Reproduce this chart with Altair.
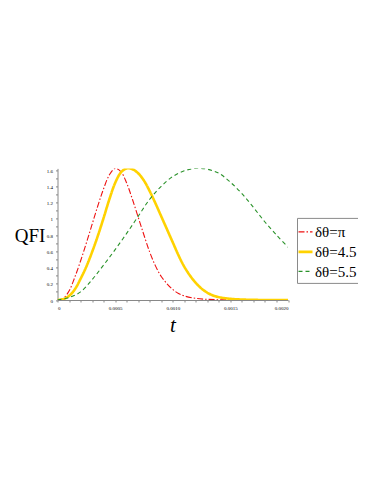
import altair as alt
import pandas as pd

# Series data (t in seconds, QFI values)
red_t = [0, 0.00005, 0.0001, 0.00015, 0.0002, 0.00025, 0.0003, 0.00035, 0.0004,
         0.00045, 0.0005, 0.00055, 0.0006, 0.00065, 0.0007, 0.00075, 0.0008,
         0.00085, 0.0009, 0.00095, 0.001, 0.00105, 0.0011, 0.0012, 0.0013,
         0.0014, 0.0015, 0.0016, 0.0018, 0.002]
red_v = [0, 0.02, 0.11, 0.28, 0.48, 0.70, 0.93, 1.16, 1.37,
         1.54, 1.62, 1.58, 1.44, 1.24, 1.02, 0.80, 0.59,
         0.42, 0.29, 0.20, 0.13, 0.08, 0.05, 0.02, 0.008,
         0.003, 0.001, 0, 0, 0]

yel_t = [0, 0.00005, 0.0001, 0.00015, 0.0002, 0.00025, 0.0003, 0.00035, 0.0004,
         0.00045, 0.0005, 0.00055, 0.0006, 0.00065, 0.0007, 0.00075, 0.0008,
         0.00085, 0.0009, 0.00095, 0.001, 0.00105, 0.0011, 0.00115, 0.0012,
         0.00125, 0.0013, 0.00135, 0.0014, 0.0015, 0.0016, 0.0017, 0.0018, 0.002]
yel_v = [0, 0.01, 0.05, 0.13, 0.26, 0.41, 0.59, 0.79, 1.01,
         1.24, 1.44, 1.57, 1.62, 1.61, 1.56, 1.47, 1.34,
         1.19, 1.03, 0.87, 0.71, 0.55, 0.41, 0.30, 0.21,
         0.14, 0.09, 0.055, 0.035, 0.015, 0.006, 0.002, 0, 0]

grn_t = [0, 0.0001, 0.0002, 0.0003, 0.0004, 0.0005, 0.0006, 0.0007, 0.0008,
         0.0009, 0.001, 0.0011, 0.0012, 0.0013, 0.0014, 0.0015, 0.0016,
         0.0017, 0.0018, 0.0019, 0.002]
grn_v = [0, 0.03, 0.10, 0.25, 0.43, 0.62, 0.82, 1.03, 1.24,
         1.40, 1.52, 1.59, 1.62, 1.61, 1.56, 1.45, 1.31,
         1.14, 0.96, 0.80, 0.65]

labels = ["δθ=π", "δθ=4.5", "δθ=5.5"]
colors = ["#ee1111", "#ffd200", "#2a922a"]
dashes = [[6, 2, 1.5, 2], [1, 0], [4, 3]]
widths = [1.1, 2.6, 1.1]

x_ticks = [round(i * 0.0001, 4) for i in range(21)]
y_ticks = [round(i * 0.1, 1) for i in range(17)]

series = [(red_t, red_v), (yel_t, yel_v), (grn_t, grn_v)]

FONT = "Liberation Serif"

x_axis = alt.Axis(
    values=x_ticks,
    labelExpr="abs(datum.value*10000 - round(datum.value*2000)*5) > 0.01 ? '' : (datum.value == 0 ? '0' : format(datum.value, '.4f'))",
    labelFont=FONT, labelFontSize=5, labelColor="#000", labelPadding=3,
    tickSize=2, tickColor="#888", domainColor="#888", grid=False,
    title="t", titleFont=FONT, titleFontSize=21, titleFontStyle="italic",
    titleFontWeight="normal", titleX=115, titleY=25, titleBaseline="middle",
    titleAlign="center", labelOverlap=False,
)
y_axis = alt.Axis(
    values=y_ticks,
    labelExpr="abs(datum.value*10 - round(datum.value*5)*2) > 0.01 ? '' : format(datum.value, '~g')",
    labelFont=FONT, labelFontSize=5, labelColor="#000", labelPadding=3,
    tickSize=2, tickColor="#888", domainColor="#888", grid=False,
    title="QFI", titleFont=FONT, titleFontSize=19, titleFontWeight="normal",
    titleAngle=0, titleX=-28, titleY=67, titleAlign="center",
    titleBaseline="middle", labelOverlap=False,
)

xs = alt.Scale(domain=[0, 0.002], nice=False)
ys = alt.Scale(domain=[0, 1.62], nice=False)

layers = []
for i, (tt, vv) in enumerate(series):
    df = pd.DataFrame({"t": tt, "v": vv})
    layers.append(
        alt.Chart(df).mark_line(
            color=colors[i], strokeDash=dashes[i], strokeWidth=widths[i],
            interpolate="catmull-rom", clip=True,
        ).encode(
            x=alt.X("t:Q", scale=xs, axis=x_axis),
            y=alt.Y("v:Q", scale=ys, axis=y_axis),
        )
    )

# Legend box (decoration)
box = alt.Chart(pd.DataFrame({"a": [0]})).mark_rect(
    fill="white", stroke="#8a8a8a", strokeWidth=1
).encode(x=alt.value(240), x2=alt.value(302), y=alt.value(50), y2=alt.value(115))
layers.append(box)

row_y = [63.5, 83.5, 103]
for i in range(3):
    layers.append(
        alt.Chart(pd.DataFrame({"a": [0]})).mark_rule(
            color=colors[i], strokeDash=dashes[i], strokeWidth=widths[i]
        ).encode(x=alt.value(241), x2=alt.value(255), y=alt.value(row_y[i]))
    )
    layers.append(
        alt.Chart(pd.DataFrame({"lab": [labels[i]]})).mark_text(
            font=FONT, fontSize=15, align="left", baseline="middle", color="#000"
        ).encode(x=alt.value(257.5), y=alt.value(row_y[i] + 0.5), text="lab:N")
    )

chart = alt.layer(*layers).properties(
    width=230.5, height=131.6,
    autosize=alt.AutoSizeParams(type="none"),
    padding={"left": 49.5, "top": 160.4, "right": 70, "bottom": 45},
    background="white",
).configure_view(stroke=None)

chart.save("out.html", embed_options={"renderer": "svg", "actions": False})
